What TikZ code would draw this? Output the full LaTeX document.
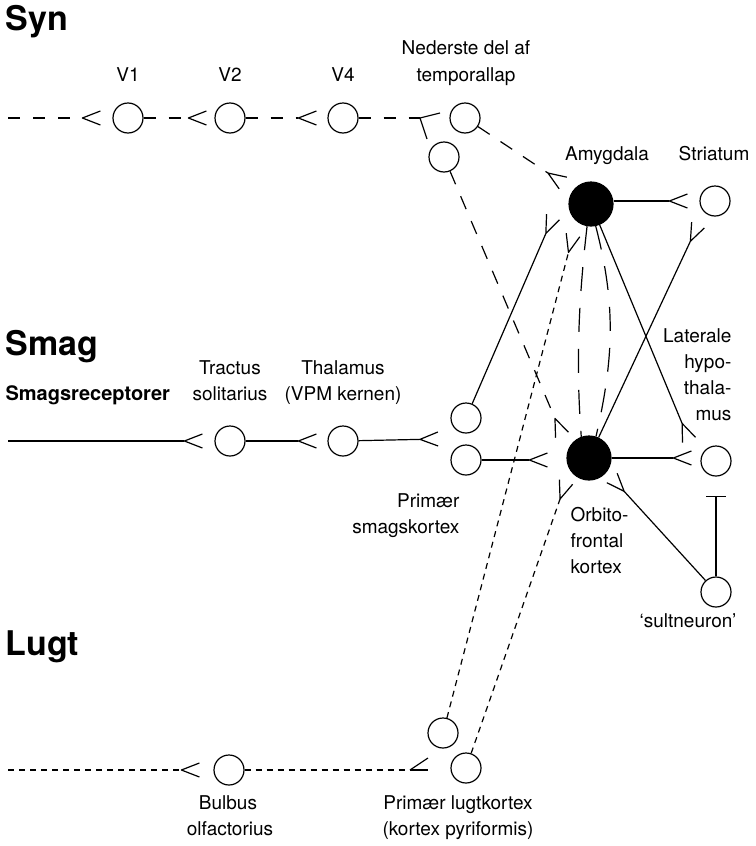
\documentclass[tikz,border=0pt]{standalone}
\usepackage{fontspec}
\setmainfont{TeX Gyre Heros}
\usetikzlibrary{arrows.meta,calc}
\pgfdeclarearrow{
  name = Fork,
  parameters = {\the\pgfarrowlength,\the\pgfarrowwidth},
  setup code = {
    \pgfarrowssettipend{0pt}
    \pgfarrowssetlineend{-\pgfarrowlength}
    \pgfarrowssetbackend{-\pgfarrowlength}
    \pgfarrowssavethe\pgfarrowlength
    \pgfarrowssavethe\pgfarrowwidth
  },
  drawing code = {
    \pgfsetdash{}{0pt}
    \pgfsetroundjoin
    \pgfpathmoveto{\pgfqpoint{0pt}{.5\pgfarrowwidth}}
    \pgfpathlineto{\pgfqpoint{-\pgfarrowlength}{0pt}}
    \pgfpathlineto{\pgfqpoint{0pt}{-.5\pgfarrowwidth}}
    \pgfusepathqstroke
  },
  defaults = {length = 18pt, width = 14pt}
}
\begin{document}
\begin{tikzpicture}[x=1pt,y=-1pt,
  line width=1.2pt,
  cell/.style={circle,draw,minimum size=30pt,inner sep=0pt},
  hub/.style={circle,draw,fill=black,minimum size=44pt,inner sep=0pt},
  lbl/.style={font=\fontsize{19}{22}\selectfont,inner sep=0pt,anchor=base},
  lblr/.style={lbl,anchor=base east},
  lbll/.style={lbl,anchor=base west},
  ttl/.style={font=\fontsize{34}{40}\selectfont\bfseries,inner sep=0pt,anchor=base west},
  syn/.style={-Fork},
  dS/.style={dash pattern=on 12pt off 13pt},
  dM/.style={dash pattern=on 14pt off 13pt},
  dL/.style={dash pattern=on 24pt off 17pt},
  dot/.style={dash pattern=on 6pt off 5pt}]
\useasboundingbox (0,0) rectangle (755,846);
% cells
\node[cell] (V1) at (128,118) {};
\node[cell] (V2) at (230,118) {};
\node[cell] (V4) at (343,118) {};
\node[cell] (N1) at (465,118) {};
\node[cell] (N2) at (444,157) {};
\node[hub]  (A)  at (591,204) {};
\node[cell] (S)  at (715,201) {};
\node[cell] (T)  at (230,441) {};
\node[cell] (Th) at (343,441) {};
\node[cell] (P1) at (466,418) {};
\node[cell] (P2) at (466,460) {};
\node[hub]  (O)  at (589,458) {};
\node[cell] (LH) at (716,461) {};
\node[cell] (SN) at (716,592) {};
\node[cell] (B)  at (229,770) {};
\node[cell] (L1) at (443,733) {};
\node[cell] (L2) at (466,768) {};
% Syn row
\coordinate (synL) at (8,118);
\draw[dS,syn,shorten >=12pt] (synL) -- (V1);
\draw[dS,syn,shorten >=8pt] (V1) -- (V2);
\draw[dS,syn,shorten >=11pt] (V2) -- (V4);
\coordinate (nedF) at (420,118);
\draw[dS] (V4) -- (nedF);
\draw (nedF) -- ($(N1)+(-25,-5)$);
\draw (nedF) -- ($(N2)+(-17,-18)$);
\draw[dM,syn] (N1) -- ($(A)+(-28,-21)$);
\draw[dM,syn] (N2) -- ($(O)+(-27,-23)$);
% Smag row
\coordinate (smagL) at (8,441);
\draw[syn,shorten >=12pt] (smagL) -- (T);
\draw[syn,shorten >=11pt] (T) -- (Th);
\coordinate (thF) at ($(P1)!0.5!(P2)+(-28,0)$);
\draw[syn] (Th) -- (thF);
\draw[syn] (P2.east) -- ($(O.west)+(-19,2)$);
\draw[syn] (P1) -- ($(A)+(-38,13)$);
% amygdala / orbitofrontal
\draw[syn,shorten >=12pt] (A.east |- S) -- (S);
\draw[syn] (A) -- ($(LH)+(-27,-21)$);
\draw[syn] (O) -- ($(S)+(-17,24)$);
\draw[syn] (O.east) -- ($(LH.west)+(-9,-3)$);
\draw[syn] (SN) -- ($(O)+(23,20)$);
\draw[-{Bar[width=20pt]}] (SN) -- ($(LH.south)+(0,19)$);
\draw[dL] (A.-100) .. controls ($(A)+(-13,100)$) and ($(O)+(-13,-90)$) .. (O.110);
\draw[dL] (A.-78) .. controls ($(A)+(25,100)$) and ($(O)+(25,-100)$) .. (O.72);
% Lugt row
\draw[dot,syn] (L1) -- ($(A)+(-18,31)$);
\draw[dot,syn] (L2) -- ($(O)+(-23,24)$);
\coordinate (lugtL) at (8,770);
\draw[dot,syn,shorten >=14pt] (lugtL) -- (B);
\coordinate (lugtF) at (410,770);
\draw[dot] (B) -- (lugtF);
\draw (lugtF) -- ($(L2)+(-38,-10)$);
\draw (lugtF) -- ($(L2)+(-38,2)$);
% titles
\node[ttl] (tSyn) at (5,30) {Syn};
\node[ttl] (tSmag) at (5,355) {Smag};
\node[ttl] (tLugt) at (5,655) {Lugt};
% labels
\node[lbl] (lV1) at (128,81) {V1};
\node[lbl] (lV2) at (230,81) {V2};
\node[lbl] (lV4) at (343,81) {V4};
\node[lbl] (lN1) at (466,54) {Nederste del af};
\node[lbl] (lN2) at (466,81) {temporallap};
\node[lbl] (lA) at (607,160) {Amygdala};
\node[lbl] (lS) at (714,160) {Striatum};
\node[lbll,font=\fontsize{20}{24}\selectfont\bfseries] (lR) at (5,400) {Smagsreceptorer};
\node[lbl] (lT1) at (230,374) {Tractus};
\node[lbl] (lT2) at (230,400) {solitarius};
\node[lbl] (lTh1) at (343,374) {Thalamus};
\node[lbl] (lTh2) at (343,400) {(VPM kernen)};
\node[lblr] (lLH1) at (732,342) {Laterale};
\node[lblr] (lLH2) at (732,368) {hypo-};
\node[lblr] (lLH3) at (732,394) {thala-};
\node[lblr] (lLH4) at (732,420) {mus};
\node[lblr] (lP1) at (460,507) {Primær};
\node[lblr] (lP2) at (460,533) {smagskortex};
\node[lbll] (lO1) at (570,521) {Orbito-};
\node[lbll] (lO2) at (570,547) {frontal};
\node[lbll] (lO3) at (570,573) {kortex};
\node[lbl] (lSN) at (688,627) {‘sultneuron’};
\node[lbl] (lB1) at (228,809) {Bulbus};
\node[lbl] (lB2) at (230,835) {olfactorius};
\node[lbl] (lL1) at (458,809) {Primær lugtkortex};
\node[lbl] (lL2) at (458,835) {(kortex pyriformis)};
\end{tikzpicture}
\end{document}
